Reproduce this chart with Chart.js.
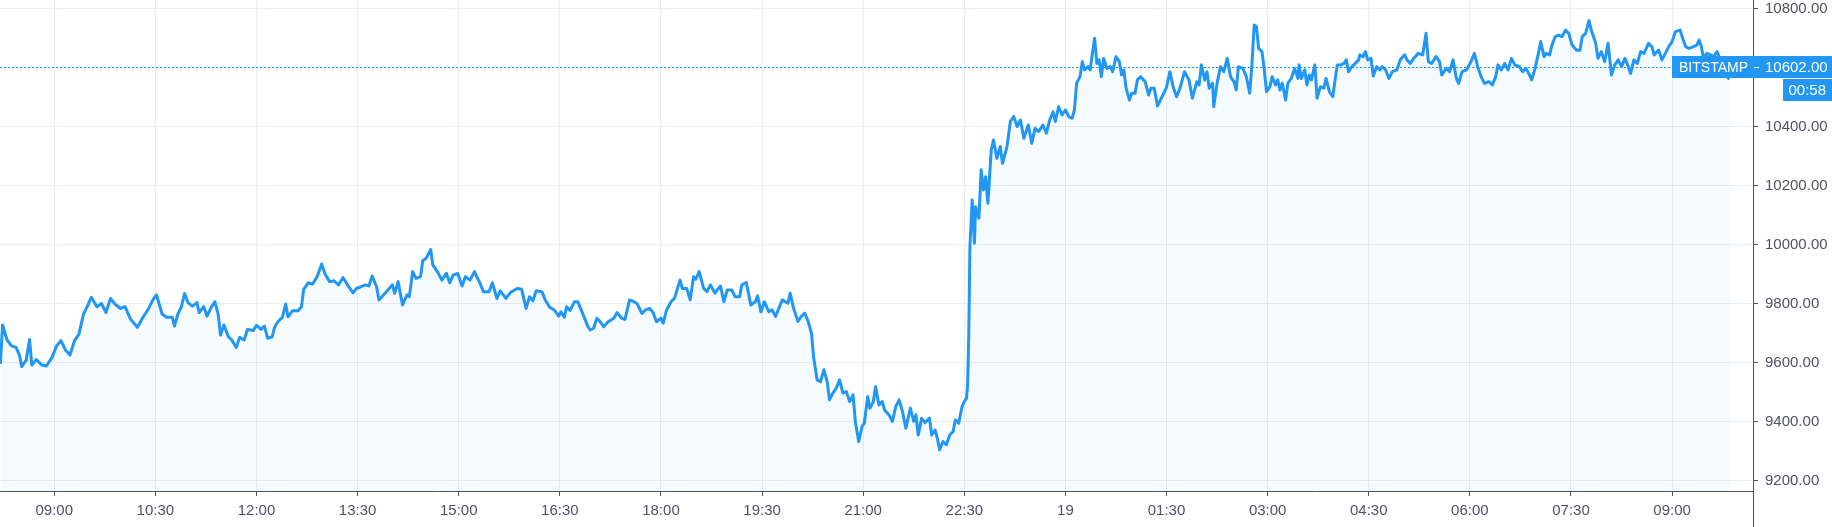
<!DOCTYPE html>
<html>
<head>
<meta charset="utf-8">
<script src="https://cdn.jsdelivr.net/npm/chart.js@4.4.1/dist/chart.umd.min.js"></script>
<style>
    html, body { margin: 0; padding: 0; background: #ffffff; }
    canvas { display: block; }
</style>
</head>
<body>
<canvas id="graficoPrezzo" width="1832" height="527"></canvas>
<script>
// ── Dati (minuti dalla mezzanotte del 18, prezzo BTC/USD) ──
const minuti = [
    492, 494, 498, 502, 506, 509, 511, 515, 518, 520, 524, 529, 533, 538, 542, 546, 550, 554, 558, 562,
    566, 570, 573, 578, 582, 586, 590, 594, 599, 603, 608, 614, 619, 624, 628, 631, 636, 640, 645, 647,
    650, 653, 656, 659, 663, 667, 669, 673, 676, 680, 683, 686, 688, 691, 695, 698, 702, 705, 709, 712,
    717, 720, 724, 727, 730, 734, 736, 739, 743, 746, 748, 752, 757, 760, 762, 766, 770, 774, 778, 781,
    785, 789, 793, 797, 802, 806, 809, 812, 817, 820, 823, 827, 829, 833, 837, 841, 843, 846, 850, 854,
    856, 859, 862, 866, 868, 871, 873, 875, 877, 881, 885, 889, 892, 895, 899, 903, 906, 910, 914, 916,
    919, 922, 927, 930, 934, 937, 942, 946, 952, 956, 960, 963, 966, 969, 974, 977, 981, 985, 989, 991,
    994, 996, 999, 1003, 1006, 1009, 1012, 1015, 1017, 1020, 1023, 1026, 1029, 1033, 1038, 1041, 1045, 1048, 1052, 1056,
    1059, 1063, 1066, 1070, 1073, 1076, 1080, 1082, 1085, 1089, 1092, 1097, 1099, 1103, 1106, 1109, 1111, 1114, 1118, 1121,
    1124, 1128, 1133, 1136, 1139, 1143, 1146, 1150, 1152, 1156, 1160, 1164, 1166, 1169, 1172, 1176, 1179, 1182, 1185, 1188,
    1193, 1195, 1198, 1202, 1205, 1208, 1211, 1214, 1216, 1219, 1222, 1225, 1228, 1230, 1233, 1236, 1239, 1242, 1245, 1248,
    1251, 1253, 1256, 1259, 1261, 1264, 1266, 1269, 1271, 1274, 1277, 1279, 1283, 1286, 1289, 1292, 1295, 1298, 1302, 1305,
    1307, 1309, 1312, 1315, 1319, 1321, 1324, 1326, 1328, 1331, 1334, 1337, 1340, 1342, 1345, 1348, 1350, 1352, 1353, 1354,
    1355, 1357, 1359, 1360, 1363, 1365, 1367, 1369, 1371, 1374, 1376, 1379, 1382, 1384, 1388, 1391, 1394, 1397, 1400, 1403,
    1407, 1410, 1413, 1416, 1420, 1423, 1426, 1429, 1431, 1434, 1437, 1440, 1443, 1446, 1448, 1450, 1453, 1455, 1457, 1460,
    1462, 1464, 1466, 1468, 1470, 1472, 1474, 1477, 1480, 1482, 1485, 1488, 1490, 1492, 1494, 1497, 1499, 1502, 1504, 1507,
    1511, 1514, 1516, 1519, 1522, 1526, 1530, 1533, 1536, 1539, 1542, 1546, 1550, 1553, 1557, 1559, 1561, 1564, 1566, 1568,
    1571, 1572, 1575, 1578, 1581, 1584, 1587, 1590, 1592, 1594, 1598, 1601, 1604, 1606, 1608, 1610, 1612, 1615, 1617, 1619,
    1622, 1624, 1627, 1629, 1631, 1633, 1636, 1638, 1641, 1644, 1647, 1648, 1650, 1653, 1655, 1657, 1659, 1662, 1664, 1667,
    1670, 1672, 1675, 1678, 1680, 1682, 1685, 1688, 1690, 1692, 1695, 1698, 1701, 1702, 1705, 1707, 1709, 1712, 1714, 1717,
    1720, 1722, 1725, 1728, 1731, 1735, 1738, 1742, 1744, 1747, 1750, 1754, 1758, 1761, 1763, 1766, 1770, 1773, 1775, 1779,
    1782, 1785, 1788, 1790, 1793, 1797, 1801, 1804, 1807, 1810, 1813, 1817, 1820, 1823, 1825, 1828, 1831, 1834, 1837, 1840,
    1844, 1847, 1850, 1853, 1855, 1858, 1861, 1863, 1866, 1868, 1871, 1873, 1876, 1879, 1882, 1885, 1888, 1891, 1895, 1898,
    1900, 1903, 1906, 1908, 1910, 1912, 1914, 1917, 1920, 1923, 1926, 1929, 1932, 1935, 1938, 1941, 1943, 1946, 1949, 1952,
    1955, 1959, 1962, 1964, 1968, 1971, 1974, 1977, 1980, 1983, 1987, 1990, 1992, 1995, 1999, 2002, 2004, 2006, 2008, 2011,
    2014, 2017, 2020, 2022, 2026, 2030, 2032
];

const prezzi = [
    9595, 9727, 9676, 9656, 9651, 9625, 9586, 9608, 9678, 9591, 9610, 9591, 9588, 9617, 9656, 9674, 9642, 9625, 9674, 9696,
    9764, 9795, 9821, 9789, 9800, 9769, 9817, 9798, 9783, 9789, 9746, 9719, 9753, 9783, 9814, 9829, 9764, 9753, 9753, 9723,
    9764, 9787, 9834, 9803, 9791, 9803, 9769, 9789, 9757, 9789, 9806, 9761, 9693, 9727, 9687, 9676, 9651, 9685, 9676, 9712,
    9708, 9726, 9712, 9723, 9682, 9687, 9719, 9738, 9753, 9798, 9755, 9775, 9775, 9789, 9848, 9870, 9866, 9891, 9934, 9900,
    9874, 9877, 9863, 9888, 9857, 9836, 9851, 9855, 9863, 9859, 9893, 9855, 9812, 9829, 9846, 9863, 9834, 9874, 9795, 9829,
    9823, 9908, 9885, 9891, 9945, 9953, 9968, 9983, 9930, 9908, 9879, 9902, 9870, 9896, 9902, 9859, 9891, 9879, 9908, 9891,
    9868, 9840, 9840, 9870, 9817, 9843, 9817, 9837, 9851, 9848, 9783, 9823, 9809, 9843, 9840, 9812, 9787, 9778, 9757, 9772,
    9753, 9789, 9776, 9806, 9806, 9778, 9750, 9721, 9710, 9716, 9750, 9738, 9721, 9738, 9750, 9769, 9750, 9746, 9812, 9806,
    9798, 9766, 9778, 9783, 9769, 9738, 9750, 9733, 9778, 9806, 9817, 9879, 9851, 9851, 9812, 9891, 9882, 9908, 9851, 9840,
    9863, 9835, 9859, 9806, 9846, 9846, 9823, 9823, 9863, 9871, 9795, 9806, 9826, 9772, 9806, 9772, 9778, 9756, 9784, 9812,
    9801, 9835, 9784, 9739, 9756, 9767, 9739, 9699, 9614, 9541, 9535, 9575, 9535, 9473, 9496, 9513, 9541, 9496, 9501, 9467,
    9490, 9400, 9332, 9383, 9394, 9484, 9445, 9467, 9518, 9456, 9467, 9439, 9422, 9400, 9450, 9473, 9433, 9377, 9445, 9400,
    9422, 9354, 9411, 9396, 9411, 9354, 9371, 9343, 9304, 9332, 9321, 9354, 9366, 9405, 9394, 9450, 9467, 9479, 9530, 9699,
    9993, 10151, 10004, 10128, 10089, 10253, 10185, 10230, 10140, 10321, 10354, 10292, 10332, 10275, 10332, 10417, 10434, 10400, 10422, 10360,
    10405, 10343, 10394, 10383, 10405, 10377, 10422, 10450, 10417, 10467, 10439, 10456, 10433, 10428, 10456, 10547, 10569, 10620, 10592, 10603,
    10592, 10648, 10699, 10614, 10626, 10569, 10631, 10597, 10603, 10586, 10637, 10620, 10575, 10592, 10530, 10490, 10513, 10513, 10558, 10569,
    10552, 10507, 10530, 10530, 10470, 10501, 10533, 10586, 10533, 10501, 10530, 10586, 10558, 10496, 10552, 10541, 10609, 10558, 10586, 10530,
    10547, 10467, 10547, 10603, 10586, 10631, 10569, 10552, 10524, 10603, 10597, 10569, 10513, 10609, 10744, 10739, 10665, 10654, 10592, 10518,
    10535, 10569, 10541, 10558, 10524, 10547, 10490, 10547, 10563, 10597, 10563, 10609, 10563, 10592, 10541, 10575, 10558, 10609, 10496, 10535,
    10530, 10563, 10518, 10501, 10558, 10609, 10609, 10614, 10626, 10586, 10603, 10614, 10626, 10643, 10637, 10654, 10626, 10631, 10571, 10603,
    10592, 10603, 10592, 10563, 10586, 10592, 10626, 10643, 10626, 10614, 10631, 10648, 10643, 10716, 10620, 10614, 10637, 10620, 10575, 10597,
    10586, 10626, 10563, 10546, 10586, 10592, 10620, 10648, 10603, 10569, 10546, 10552, 10541, 10569, 10609, 10592, 10614, 10592, 10631, 10609,
    10603, 10586, 10597, 10575, 10558, 10597, 10648, 10688, 10637, 10648, 10643, 10676, 10705, 10710, 10705, 10727, 10716, 10676, 10659, 10659,
    10705, 10716, 10759, 10727, 10705, 10682, 10631, 10654, 10620, 10682, 10575, 10609, 10626, 10603, 10631, 10603, 10580, 10626, 10614, 10654,
    10648, 10682, 10671, 10643, 10659, 10626, 10648, 10671, 10688, 10722, 10727, 10693, 10671, 10665, 10671, 10676, 10693, 10671, 10631, 10648,
    10643, 10637, 10654, 10635, 10614, 10563, 10602
];

// tacche asse orizzontale ogni 90 minuti (09:00 del 18 -> 09:00 del 19)
const tickMinuti = [540, 630, 720, 810, 900, 990, 1080, 1170, 1260, 1350, 1440, 1530, 1620, 1710, 1800, 1890, 1980];
const livelliPrezzo = [9200, 9400, 9600, 9800, 10000, 10200, 10400, 10600, 10800];

const prezzoAttuale = 10602;
const nomeBorsa = 'BITSTAMP';
const contoAllaRovescia = '00:58';

const BLU = '#2196f3';
const TESTO = '#50535e';
const FONT = "'Liberation Sans', Arial, sans-serif";

function formattaOra(m) {
    if (m % 1440 === 0) return String(m / 1440 + 18);
    const h = Math.floor((m % 1440) / 60);
    const mm = m % 60;
    return String(h).padStart(2, '0') + ':' + String(mm).padStart(2, '0');
}

const punti = minuti.map((m, i) => ({ x: m, y: prezzi[i] }));

// ── Linea del prezzo attuale, etichette BITSTAMP / prezzo / countdown ──
const pluginPrezzo = {
    id: 'pluginPrezzo',
    afterDraw(chart) {
        const c = chart.ctx;
        const area = chart.chartArea;
        const y = Math.round(chart.scales.y.getPixelForValue(prezzoAttuale));
        const destra = area.right;

        // asse verticale prolungato fino al fondo
        c.save();
        c.strokeStyle = TESTO;
        c.lineWidth = 1;
        c.beginPath();
        c.moveTo(destra + 0.5, area.bottom);
        c.lineTo(destra + 0.5, chart.height);
        c.stroke();

        // box BITSTAMP
        const boxW = 81, boxH = 22;
        const boxX = destra - boxW;
        c.setLineDash([2, 2]);
        c.strokeStyle = BLU;
        c.beginPath();
        c.moveTo(area.left, y + 0.5);
        c.lineTo(boxX, y + 0.5);
        c.stroke();
        c.setLineDash([]);

        c.fillStyle = BLU;
        c.fillRect(boxX, y - boxH / 2, boxW, boxH);
        c.fillStyle = '#ffffff';
        c.font = '14px ' + FONT;
        c.textAlign = 'center';
        c.textBaseline = 'middle';
        c.fillText(nomeBorsa, boxX + boxW / 2 + 1, y + 1);

        // box prezzo sull'asse
        c.fillStyle = BLU;
        c.fillRect(destra, y - boxH / 2, chart.width - destra, boxH);
        c.strokeStyle = '#ffffff';
        c.beginPath();
        c.moveTo(destra + 1, y + 0.5);
        c.lineTo(destra + 6, y + 0.5);
        c.stroke();
        c.fillStyle = '#ffffff';
        c.font = '15px ' + FONT;
        c.textAlign = 'left';
        c.fillText(prezzoAttuale.toFixed(2), destra + 12, y + 1);

        // countdown
        const cdX = destra + 30;
        c.fillStyle = BLU;
        c.fillRect(cdX, y + 12, chart.width - cdX, boxH);
        c.fillStyle = '#ffffff';
        c.textAlign = 'right';
        c.fillText(contoAllaRovescia, chart.width - 6, y + 12 + boxH / 2 + 1);
        c.restore();
    }
};

const ctx = document.getElementById('graficoPrezzo').getContext('2d');
const grafico = new Chart(ctx, {
    type: 'line',
    data: {
        datasets: [{
            label: 'BTCUSD',
            data: punti,
            borderColor: BLU,
            borderWidth: 3,
            borderJoinStyle: 'round',
            backgroundColor: 'rgba(33, 150, 243, 0.05)',
            fill: 'start',
            pointRadius: 0,
            tension: 0
        }]
    },
    options: {
        responsive: false,
        animation: false,
        layout: { padding: 0 },
        plugins: {
            legend: { display: false },
            tooltip: { enabled: false }
        },
        scales: {
            x: {
                type: 'linear',
                min: 491.7,
                max: 2052,
                afterBuildTicks: (s) => { s.ticks = tickMinuti.map(v => ({ value: v })); },
                afterFit: (s) => { s.height = 36; s.paddingLeft = 0; s.paddingRight = 0; },
                ticks: {
                    callback: (v) => formattaOra(v),
                    color: TESTO,
                    font: { family: FONT, size: 15 },
                    padding: 6,
                    maxRotation: 0,
                    autoSkip: false
                },
                grid: { color: '#e8eef4', tickColor: TESTO, tickLength: 5 },
                border: { color: TESTO, width: 1 }
            },
            y: {
                position: 'right',
                min: 9164,
                max: 10829,
                afterBuildTicks: (s) => { s.ticks = livelliPrezzo.map(v => ({ value: v })); },
                afterFit: (s) => { s.width = 79; s.paddingTop = 0; s.paddingBottom = 0; },
                ticks: {
                    callback: (v) => v.toFixed(2),
                    color: TESTO,
                    font: { family: FONT, size: 15 },
                    padding: 7
                },
                grid: { color: '#e8eef4', tickColor: TESTO, tickLength: 5 },
                border: { color: TESTO, width: 1 }
            }
        }
    },
    plugins: [pluginPrezzo]
});
</script>
</body>
</html>
